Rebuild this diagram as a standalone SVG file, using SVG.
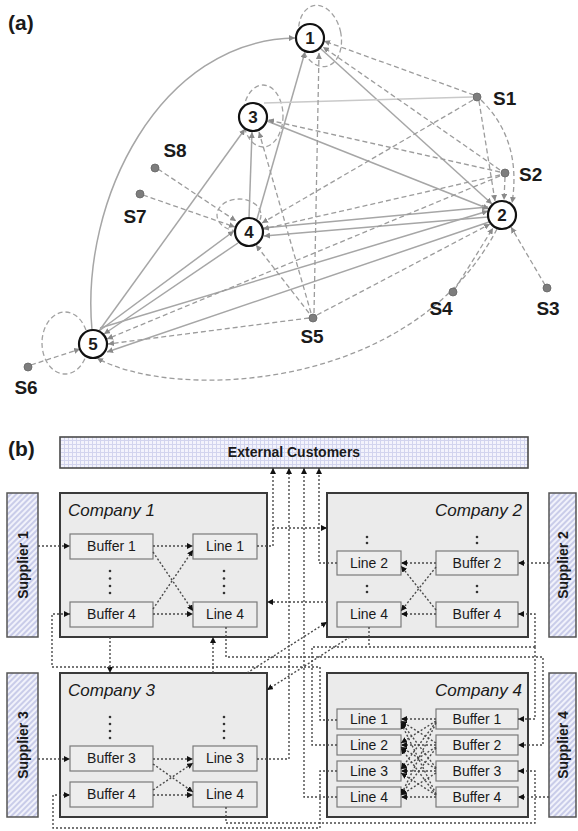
<svg xmlns="http://www.w3.org/2000/svg" width="578" height="831" viewBox="0 0 578 831">
  <defs>
    <marker id="arrA" markerUnits="userSpaceOnUse" markerWidth="7" markerHeight="6" refX="6" refY="3" orient="auto">
      <path d="M0,0 L6,3 L0,6 z" fill="#8a8a8a"/>
    </marker>
    <marker id="arrB" markerUnits="userSpaceOnUse" markerWidth="7" markerHeight="6" refX="6" refY="3" orient="auto">
      <path d="M0,0 L6,3 L0,6 z" fill="#111"/>
    </marker>
    <pattern id="grid" width="4" height="4" patternUnits="userSpaceOnUse">
      <rect width="4" height="4" fill="#f3f3fc"/>
      <path d="M0,0.5 H4 M0.5,0 V4" stroke="#d2d4ee" stroke-width="1"/>
    </pattern>
    <pattern id="hatch" width="4" height="4" patternUnits="userSpaceOnUse" patternTransform="rotate(-45)">
      <rect width="4" height="4" fill="#f1f2fb"/>
      <path d="M0,1 H4" stroke="#b4b8e0" stroke-width="1.3"/>
    </pattern>
  </defs>
  <style>
    text { font-family: "Liberation Sans", Arial, sans-serif; fill: #1a1a1a; }
    .panel { font-size: 21px; font-weight: bold; }
    .num { font-size: 17px; font-weight: bold; text-anchor: middle; }
    .slab { font-size: 19px; font-weight: bold; }
    .node circle { fill: #fff; stroke: #111; stroke-width: 2.2; }
    .src { fill: #7d7d7d; stroke: #666; stroke-width: 0.8; }
    .sol { fill: none; stroke: #a6a6a6; stroke-width: 1.5; marker-end: url(#arrA); }
    .dash { fill: none; stroke: #9c9c9c; stroke-width: 1.3; stroke-dasharray: 5 3; marker-end: url(#arrA); }
    .loop { fill: none; stroke: #a2a2a2; stroke-width: 1.3; stroke-dasharray: 5 3; }
    .co { fill: #ebebeb; stroke: #3a3a3a; stroke-width: 2; }
    .box { fill: #ededed; stroke: #7a7a7a; stroke-width: 1.2; }
    .sup { fill: url(#hatch); stroke: #555; stroke-width: 1.5; }
    .cname { font-size: 17px; font-style: italic; }
    .blab { font-size: 14px; text-anchor: middle; }
    .suplab { font-size: 14px; font-weight: bold; text-anchor: middle; }
    .dot { fill: #333; }
    .flow { fill: none; stroke: #4a4a4a; stroke-width: 1.4; stroke-dasharray: 2 2; marker-end: url(#arrB); }
    .bus { fill: none; stroke: #4a4a4a; stroke-width: 1.4; stroke-dasharray: 2 2; }
  </style>

  <!-- ===== Panel (a): network of plants and sources ===== -->
  <text class="panel" x="8" y="30">(a)</text>

  <g id="a-connectors">
    <!-- self loops -->
    <ellipse class="loop" cx="320" cy="36" rx="21" ry="31" transform="rotate(-12 320 36)"/>
    <ellipse class="loop" cx="263" cy="116" rx="20" ry="31"/>
    <ellipse class="loop" cx="239" cy="215" rx="22" ry="16"/>
    <ellipse class="loop" cx="65" cy="343" rx="23" ry="31"/>

    <!-- solid links between plants -->
    <path class="sol" d="M92 330 C80 200 160 40 295 38"/>
    <path class="sol" d="M99 331 L245 129"/>
    <path class="sol" d="M99 331 L234 231"/>
    <path class="sol" d="M238 243 L104 334"/>
    <path class="sol" d="M100 328 L488 211"/>
    <path class="sol" d="M489 222 L107 352"/>
    <path class="sol" d="M263 228 L488 207"/>
    <path class="sol" d="M488 217 L264 236"/>
    <path class="sol" d="M249 218 L252 132"/>
    <path class="sol" d="M257 219 L305 52"/>
    <path class="sol" d="M267 121 L489 209"/>
    <path class="sol" d="M320 48 L492 204"/>
    <path d="M264 103 L472 97" fill="none" stroke="#c9c9c9" stroke-width="1.5"/>

    <!-- dashed links from sources -->
    <path class="dash" d="M474 95 L324 41"/>
    <path class="dash" d="M500 170 L323 47"/>
    <path class="dash" d="M314 313 L319 53"/>
    <path class="dash" d="M500 172 L268 120"/>
    <path class="dash" d="M311 313 L259 132"/>
    <path class="dash" d="M473 100 L262 223"/>
    <path class="dash" d="M500 175 L263 229"/>
    <path class="dash" d="M309 313 L256 245"/>
    <path class="dash" d="M158 169 L236 221"/>
    <path class="dash" d="M143 195 L235 227"/>
    <path class="dash" d="M500 176 L107 339"/>
    <path class="dash" d="M309 318 L108 344"/>
    <path class="dash" d="M31 365 L80 349"/>
    <path class="dash" d="M317 315 L490 224"/>
    <path class="dash" d="M455 289 L493 228"/>
    <path class="dash" d="M545 285 L511 227"/>
    <path class="dash" d="M505 177 L504 200"/>
    <path class="dash" d="M479 101 L495 201"/>
    <path class="dash" d="M481 100 Q522 140 512 203"/>
    <path class="dash" d="M497 229 C410 395 170 400 97 358"/>
  </g>

  <g id="node-1" class="node"><circle cx="310" cy="38" r="14"/><text class="num" x="310" y="44">1</text></g>
  <g id="node-2" class="node"><circle cx="502" cy="215" r="14"/><text class="num" x="502" y="221">2</text></g>
  <g id="node-3" class="node"><circle cx="253" cy="117" r="14"/><text class="num" x="253" y="123">3</text></g>
  <g id="node-4" class="node"><circle cx="249" cy="232" r="14"/><text class="num" x="249" y="238">4</text></g>
  <g id="node-5" class="node"><circle cx="93" cy="344" r="14"/><text class="num" x="93" y="350">5</text></g>

  <g id="src-S1"><circle class="src" cx="477" cy="97" r="4"/><text class="slab" x="493" y="105">S1</text></g>
  <g id="src-S2"><circle class="src" cx="505" cy="173" r="4"/><text class="slab" x="519" y="181">S2</text></g>
  <g id="src-S3"><circle class="src" cx="547" cy="288" r="4"/><text class="slab" x="548" y="315" text-anchor="middle">S3</text></g>
  <g id="src-S4"><circle class="src" cx="453" cy="292" r="4"/><text class="slab" x="441" y="315" text-anchor="middle">S4</text></g>
  <g id="src-S5"><circle class="src" cx="313" cy="318" r="4"/><text class="slab" x="312" y="343" text-anchor="middle">S5</text></g>
  <g id="src-S6"><circle class="src" cx="28" cy="367" r="4"/><text class="slab" x="26" y="394" text-anchor="middle">S6</text></g>
  <g id="src-S7"><circle class="src" cx="140" cy="194" r="4"/><text class="slab" x="135" y="223" text-anchor="middle">S7</text></g>
  <g id="src-S8"><circle class="src" cx="155" cy="168" r="4"/><text class="slab" x="175" y="157" text-anchor="middle">S8</text></g>

  <!-- ===== Panel (b): companies, buffers and lines ===== -->
  <text class="panel" x="8" y="456">(b)</text>

  <g id="customers">
    <rect x="60" y="437" width="468" height="31" fill="url(#grid)" stroke="#4a4a4a" stroke-width="1.6"/>
    <text x="294" y="457" font-size="14" font-weight="bold" text-anchor="middle">External Customers</text>
  </g>

  <g id="supplier-1"><rect class="sup" x="7" y="493" width="31" height="144"/><text class="suplab" transform="translate(27.5 565) rotate(-90)">Supplier 1</text></g>
  <g id="supplier-2"><rect class="sup" x="549" y="493" width="27" height="144"/><text class="suplab" transform="translate(567.5 565) rotate(-90)">Supplier 2</text></g>
  <g id="supplier-3"><rect class="sup" x="7" y="673" width="31" height="144"/><text class="suplab" transform="translate(27.5 745) rotate(-90)">Supplier 3</text></g>
  <g id="supplier-4"><rect class="sup" x="549" y="673" width="27" height="144"/><text class="suplab" transform="translate(567.5 745) rotate(-90)">Supplier 4</text></g>

  <g id="company-1">
    <rect class="co" x="60" y="493" width="207" height="144"/>
    <text class="cname" x="68" y="516">Company 1</text>
    <g id="c1-buffer-1"><rect class="box" x="70" y="534" width="83" height="25"/><text class="blab" x="111.5" y="551">Buffer 1</text></g>
    <g id="c1-line-1"><rect class="box" x="193" y="534" width="64" height="25"/><text class="blab" x="225" y="551">Line 1</text></g>
    <g id="c1-buffer-4"><rect class="box" x="70" y="602" width="83" height="25"/><text class="blab" x="111.5" y="619">Buffer 4</text></g>
    <g id="c1-line-4"><rect class="box" x="193" y="602" width="64" height="25"/><text class="blab" x="225" y="619">Line 4</text></g>
    <circle class="dot" cx="110" cy="571" r="1.3"/><circle class="dot" cx="110" cy="578.5" r="1.3"/><circle class="dot" cx="110" cy="586" r="1.3"/><circle class="dot" cx="110" cy="593" r="1.3"/>
    <circle class="dot" cx="224" cy="571" r="1.3"/><circle class="dot" cx="224" cy="578.5" r="1.3"/><circle class="dot" cx="224" cy="586" r="1.3"/><circle class="dot" cx="224" cy="593" r="1.3"/>
  </g>

  <g id="company-2">
    <rect class="co" x="327" y="493" width="201" height="144"/>
    <text class="cname" x="522" y="516" text-anchor="end">Company 2</text>
    <g id="c2-line-2"><rect class="box" x="337" y="551" width="64" height="24"/><text class="blab" x="369" y="568">Line 2</text></g>
    <g id="c2-buffer-2"><rect class="box" x="436" y="551" width="82" height="24"/><text class="blab" x="477" y="568">Buffer 2</text></g>
    <g id="c2-line-4"><rect class="box" x="337" y="602" width="64" height="25"/><text class="blab" x="369" y="619">Line 4</text></g>
    <g id="c2-buffer-4"><rect class="box" x="436" y="602" width="82" height="25"/><text class="blab" x="477" y="619">Buffer 4</text></g>
    <circle class="dot" cx="367" cy="537" r="1.3"/><circle class="dot" cx="367" cy="543" r="1.3"/>
    <circle class="dot" cx="477" cy="537" r="1.3"/><circle class="dot" cx="477" cy="543" r="1.3"/>
    <circle class="dot" cx="367" cy="586" r="1.3"/><circle class="dot" cx="367" cy="592" r="1.3"/>
    <circle class="dot" cx="477" cy="586" r="1.3"/><circle class="dot" cx="477" cy="592" r="1.3"/>
  </g>

  <g id="company-3">
    <rect class="co" x="60" y="673" width="207" height="144"/>
    <text class="cname" x="68" y="696">Company 3</text>
    <g id="c3-buffer-3"><rect class="box" x="70" y="746" width="83" height="25"/><text class="blab" x="111.5" y="763">Buffer 3</text></g>
    <g id="c3-line-3"><rect class="box" x="193" y="746" width="64" height="25"/><text class="blab" x="225" y="763">Line 3</text></g>
    <g id="c3-buffer-4"><rect class="box" x="70" y="782" width="83" height="25"/><text class="blab" x="111.5" y="799">Buffer 4</text></g>
    <g id="c3-line-4"><rect class="box" x="193" y="782" width="64" height="25"/><text class="blab" x="225" y="799">Line 4</text></g>
    <circle class="dot" cx="110" cy="717" r="1.3"/><circle class="dot" cx="110" cy="724" r="1.3"/><circle class="dot" cx="110" cy="731" r="1.3"/><circle class="dot" cx="110" cy="738" r="1.3"/>
    <circle class="dot" cx="224" cy="717" r="1.3"/><circle class="dot" cx="224" cy="724" r="1.3"/><circle class="dot" cx="224" cy="731" r="1.3"/><circle class="dot" cx="224" cy="738" r="1.3"/>
  </g>

  <g id="company-4">
    <rect class="co" x="327" y="673" width="201" height="144"/>
    <text class="cname" x="522" y="696" text-anchor="end">Company 4</text>
    <g id="c4-line-1"><rect class="box" x="337" y="709" width="64" height="20"/><text class="blab" x="369" y="724">Line 1</text></g>
    <g id="c4-line-2"><rect class="box" x="337" y="735" width="64" height="20"/><text class="blab" x="369" y="750">Line 2</text></g>
    <g id="c4-line-3"><rect class="box" x="337" y="761" width="64" height="20"/><text class="blab" x="369" y="776">Line 3</text></g>
    <g id="c4-line-4"><rect class="box" x="337" y="787" width="64" height="20"/><text class="blab" x="369" y="802">Line 4</text></g>
    <g id="c4-buffer-1"><rect class="box" x="436" y="709" width="82" height="20"/><text class="blab" x="477" y="724">Buffer 1</text></g>
    <g id="c4-buffer-2"><rect class="box" x="436" y="735" width="82" height="20"/><text class="blab" x="477" y="750">Buffer 2</text></g>
    <g id="c4-buffer-3"><rect class="box" x="436" y="761" width="82" height="20"/><text class="blab" x="477" y="776">Buffer 3</text></g>
    <g id="c4-buffer-4"><rect class="box" x="436" y="787" width="82" height="20"/><text class="blab" x="477" y="802">Buffer 4</text></g>
  </g>

  <g id="b-connectors">
    <!-- company 1 -->
    <path class="flow" d="M38 546 H70"/>
    <path class="flow" d="M153 546 H193"/>
    <path class="flow" d="M153 552 L193 611"/>
    <path class="flow" d="M153 609 L193 550"/>
    <path class="flow" d="M153 614 H193"/>
    <path class="flow" d="M257 546 H273 V468"/>
    <path class="flow" d="M273 528 H327"/>
    <path class="flow" d="M327 602 H267"/>
    <path class="flow" d="M110 637 V673"/>
    <path class="flow" d="M213 673 V637"/>
    <path class="flow" d="M226 627 V657 H543 V745 H518"/>
    <path class="flow" d="M337 720 H320 V667 H52 V614 H70"/>
    <!-- company 2 -->
    <path class="flow" d="M337 563 H319 V468"/>
    <path class="flow" d="M549 563 H518"/>
    <path class="flow" d="M436 563 H401"/>
    <path class="flow" d="M436 567 L401 611"/>
    <path class="flow" d="M436 610 L401 566"/>
    <path class="flow" d="M436 614 H401"/>
    <path class="bus" d="M369 627 V647"/>
    <path class="bus" d="M313 647 H535"/>
    <path class="flow" d="M535 647 V614 H518"/>
    <path class="flow" d="M535 647 V719 H518"/>
    <path class="bus" d="M337 745 H312 V647"/>
    <path class="flow" d="M247 673 L327 622"/>
    <path class="flow" d="M350 637 L267 690"/>
    <!-- company 3 -->
    <path class="flow" d="M38 759 H70"/>
    <path class="flow" d="M153 759 H193"/>
    <path class="flow" d="M153 764 L193 792"/>
    <path class="flow" d="M153 790 L193 763"/>
    <path class="flow" d="M153 795 H193"/>
    <path class="flow" d="M257 759 H289 V468"/>
    <path class="flow" d="M226 807 V823 H535 V771 H518"/>
    <path class="flow" d="M337 771 H320 V828 H53 V795 H70"/>
    <!-- company 4 -->
    <path class="flow" d="M337 797 H304 V468"/>
    <path class="flow" d="M549 797 H518"/>
    <path class="flow" d="M436 719 H401"/>
    <path class="flow" d="M436 745 H401"/>
    <path class="flow" d="M436 771 H401"/>
    <path class="flow" d="M436 797 H401"/>
    <path class="flow" d="M436 721 L401 743"/>
    <path class="flow" d="M436 722 L401 769"/>
    <path class="flow" d="M436 723 L401 795"/>
    <path class="flow" d="M436 743 L401 721"/>
    <path class="flow" d="M436 747 L401 769"/>
    <path class="flow" d="M436 748 L401 795"/>
    <path class="flow" d="M436 768 L401 722"/>
    <path class="flow" d="M436 769 L401 747"/>
    <path class="flow" d="M436 773 L401 795"/>
    <path class="flow" d="M436 794 L401 723"/>
    <path class="flow" d="M436 795 L401 748"/>
    <path class="flow" d="M436 795 L401 773"/>
  </g>
</svg>
